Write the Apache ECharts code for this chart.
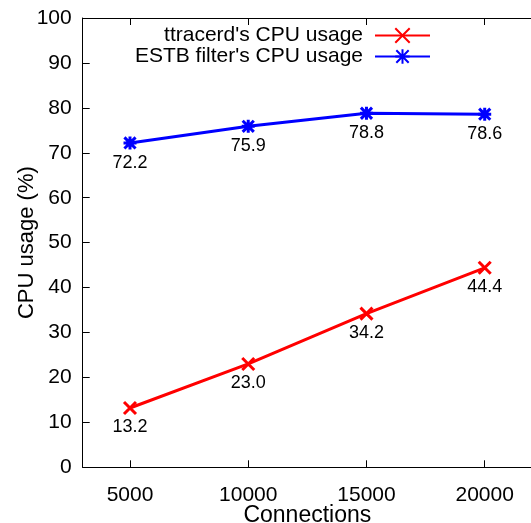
<!DOCTYPE html>
<html>
<head>
<meta charset="utf-8">
<script src="https://cdn.jsdelivr.net/npm/echarts@6/dist/echarts.min.js"></script>
<style>
html,body{margin:0;padding:0;background:#fff;}
#chart{width:531px;height:523px;}
</style>
</head>
<body>
<div id="chart"></div>
<script>
var connections = [5000, 10000, 15000, 20000];
var ttracerdCpu = [13.2, 23.0, 34.2, 44.4];
var estbCpu = [72.2, 75.9, 78.8, 78.6];
var xTicks = [5000, 10000, 15000, 20000];
var seriesNames = ["ttracerd's CPU usage", "ESTB filter's CPU usage"];

var FONT = 'Liberation Sans';
var crossPath = 'path://M0,0L10,10M10,0L0,10';
var starPath = 'path://M0,0L12,12M12,0L0,12M6,-1L6,13M-1,6L13,6';

function pairs(xs, ys) { return xs.map(function (x, i) { return [x, ys[i]]; }); }

var chart = echarts.init(document.getElementById('chart'), null, {renderer: 'canvas'});
var axisLine = {show: true, lineStyle: {color: '#000', width: 1}};
chart.setOption({
  animation: false,
  backgroundColor: '#fff',
  textStyle: {fontFamily: FONT},
  grid: {left: 82.7, top: 18, right: -1, bottom: 55.7, containLabel: false, outerBoundsMode: 'none'},
  legend: {
    data: seriesNames,
    orient: 'vertical',
    align: 'right',
    right: 95,
    top: 20,
    itemWidth: 55,
    itemHeight: 18,
    itemGap: 0,
    textStyle: {fontSize: 21, color: '#000', fontFamily: FONT, padding: [0, 7, 0, 0]}
  },
  xAxis: [{
    type: 'value', min: 3000, max: 22000, position: 'bottom',
    name: 'Connections', nameLocation: 'middle', nameGap: 37, nameMoveOverlap: false,
    nameTextStyle: {fontSize: 23, color: '#000', fontFamily: FONT},
    axisLine: axisLine,
    axisTick: {show: true, inside: true, length: 7, customValues: xTicks, lineStyle: {color: '#000'}},
    axisLabel: {show: true, customValues: xTicks, margin: 17, fontSize: 21, color: '#000', fontFamily: FONT,
      formatter: function (v) { return String(v); }},
    splitLine: {show: false}
  }, {
    type: 'value', min: 3000, max: 22000, position: 'top',
    axisLine: axisLine,
    axisTick: {show: true, inside: true, length: 7, customValues: xTicks, lineStyle: {color: '#000'}},
    axisLabel: {show: false},
    splitLine: {show: false}
  }],
  yAxis: [{
    type: 'value', min: 0, max: 100, interval: 10,
    name: 'CPU usage (%)', nameLocation: 'middle', nameGap: 45, nameMoveOverlap: false,
    nameTextStyle: {fontSize: 22, color: '#000', fontFamily: FONT},
    axisLine: axisLine,
    axisTick: {show: true, inside: true, length: 7, lineStyle: {color: '#000'}},
    axisLabel: {margin: 11, fontSize: 21, color: '#000', fontFamily: FONT},
    splitLine: {show: false}
  }],
  series: [{
    name: seriesNames[0], type: 'line', xAxisIndex: 0,
    data: pairs(connections, ttracerdCpu),
    symbol: crossPath, symbolSize: 12,
    lineStyle: {color: '#ff0000', width: 3},
    itemStyle: {color: '#ff0000', borderColor: '#ff0000', borderWidth: 3},
    label: {show: true, position: 'bottom', distance: 3, fontSize: 18, color: '#000', fontFamily: FONT,
      formatter: function (p) { return p.value[1].toFixed(1); }}
  }, {
    name: seriesNames[1], type: 'line', xAxisIndex: 0,
    data: pairs(connections, estbCpu),
    symbol: starPath, symbolSize: 13,
    lineStyle: {color: '#0000ff', width: 3},
    itemStyle: {color: '#0000ff', borderColor: '#0000ff', borderWidth: 3},
    label: {show: true, position: 'bottom', distance: 3, fontSize: 18, color: '#000', fontFamily: FONT,
      formatter: function (p) { return p.value[1].toFixed(1); }}
  }]
});
</script>
</body>
</html>
